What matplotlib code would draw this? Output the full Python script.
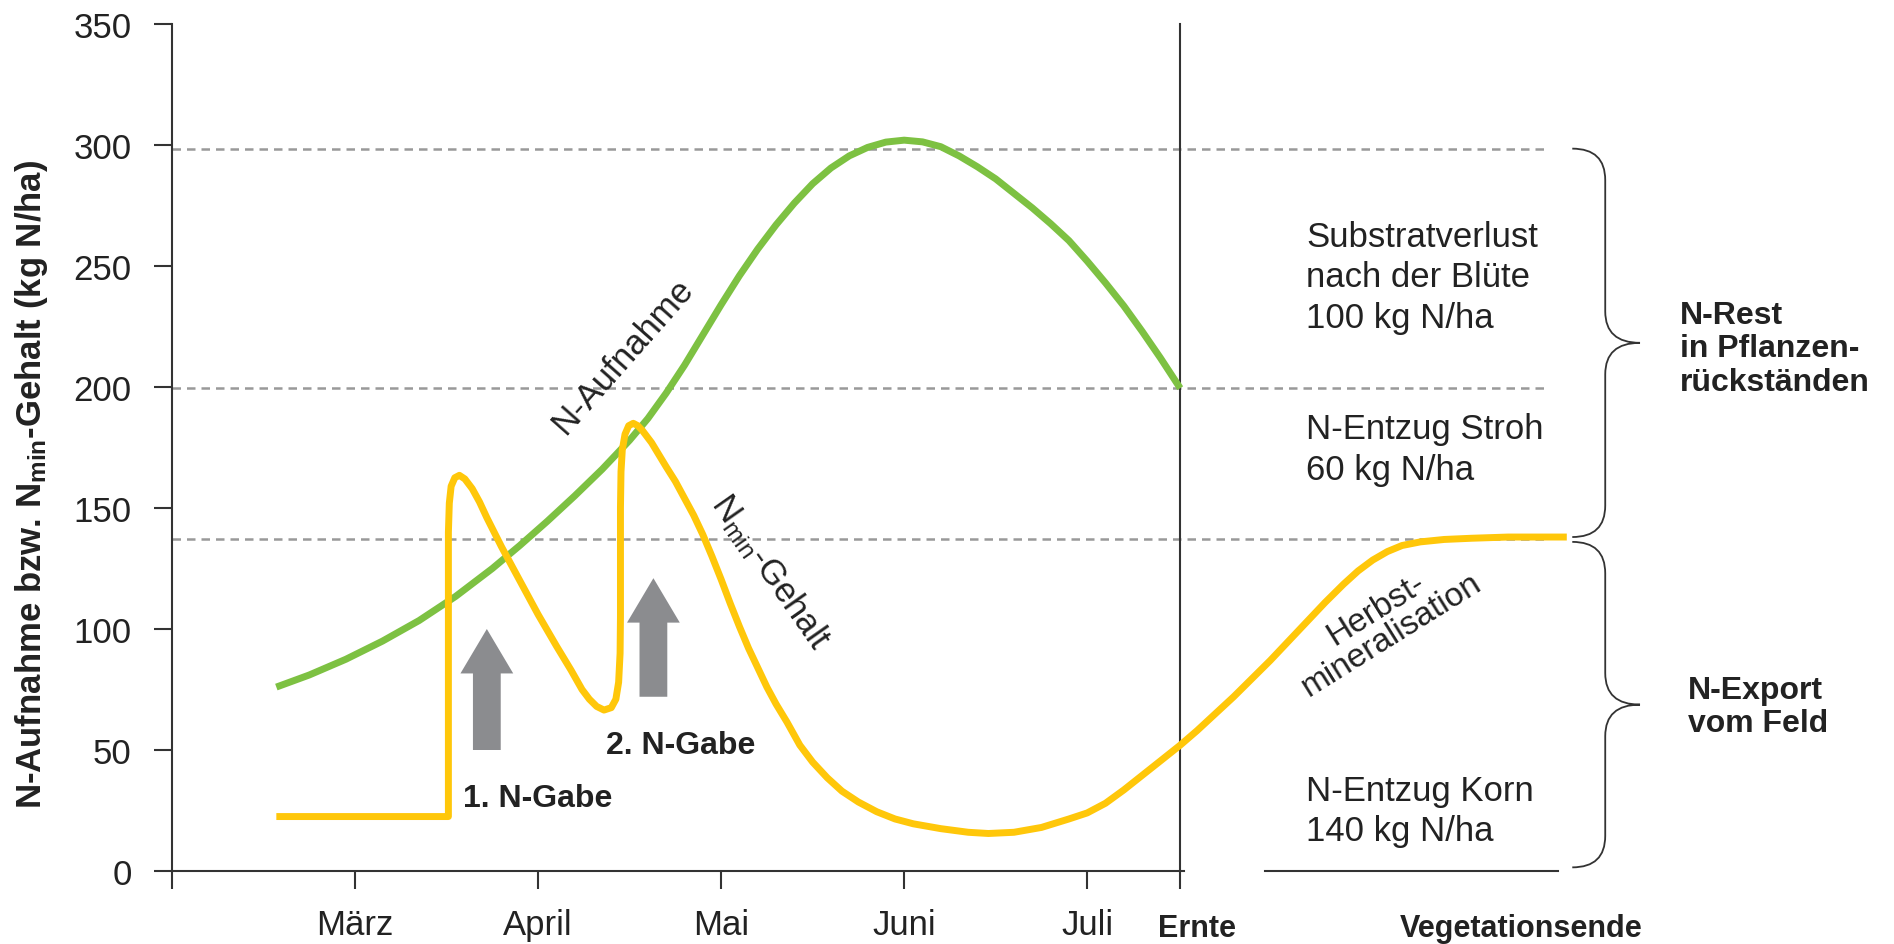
import matplotlib
matplotlib.use("Agg")
import matplotlib.pyplot as plt
from matplotlib.path import Path
from matplotlib.patches import PathPatch

plt.rcParams['font.family'] = ['Liberation Sans', 'DejaVu Sans']
plt.rcParams['mathtext.fontset'] = 'custom'
plt.rcParams['mathtext.rm'] = 'Liberation Sans'
plt.rcParams['mathtext.bf'] = 'Liberation Sans:bold'
plt.rcParams['mathtext.it'] = 'Liberation Sans:italic'
plt.rcParams['mathtext.default'] = 'regular'

# x axis: months since start, März = 1 ... Juli = 5, Ernte ~ 5.5
month_pos = [1, 2, 3, 4, 5]
month_labels = ['März', 'April', 'Mai', 'Juni', 'Juli']
ernte_x = 5.508
vegende_x = 7.37

# N-Aufnahme (green)
aufnahme_x = [0.57, 0.75, 0.95, 1.15, 1.35, 1.55, 1.75, 1.9, 2.05, 2.2, 2.35, 2.5, 2.6,
              2.7, 2.8, 2.9, 3.0, 3.1, 3.2, 3.3, 3.4, 3.5, 3.6, 3.7, 3.8, 3.9, 4.0,
              4.1, 4.2, 4.3, 4.4, 4.5, 4.6, 4.7, 4.8, 4.9, 5.0, 5.1, 5.2, 5.3, 5.4, 5.508]
aufnahme_y = [76, 81, 87.5, 95, 103.5, 113.5, 125, 134.5, 144.5, 155, 166, 178, 187,
              197.5, 209, 221.5, 234, 246, 257, 267, 276, 284, 290.5, 295.5, 299, 301.2, 302,
              301.3, 299.3, 295.5, 291, 286, 280, 274, 267.5, 260.5, 252, 243, 233.5, 223, 212, 199.5]

# Nmin-Gehalt (yellow)
nmin_x = [0.57, 1.51, 1.51, 1.515, 1.525, 1.545, 1.57, 1.60, 1.64, 1.68, 1.72, 1.76,
          1.80, 1.90, 2.00, 2.10, 2.18, 2.24, 2.28, 2.32, 2.36, 2.40, 2.425, 2.44,
          2.448, 2.45, 2.45, 2.453, 2.46, 2.475, 2.495, 2.52, 2.545, 2.57, 2.62, 2.66,
          2.70, 2.75, 2.80, 2.85, 2.90, 2.95, 3.00, 3.05, 3.10, 3.15, 3.20, 3.25, 3.30,
          3.36, 3.43, 3.50, 3.58, 3.66, 3.75, 3.85, 3.95, 4.05, 4.2, 4.35, 4.46, 4.6,
          4.75, 4.9, 5.0, 5.1, 5.2, 5.3, 5.4, 5.508, 5.6, 5.7, 5.8, 5.9, 6.0, 6.1, 6.2,
          6.3, 6.4, 6.48, 6.56, 6.64, 6.72, 6.82, 6.95, 7.1, 7.3, 7.62]
nmin_y = [22.5, 22.5, 140, 152, 159, 162.5, 163.5, 162, 158, 152.5, 146, 140,
          134, 120, 106, 93, 83, 75, 71, 68, 66.5, 67.5, 71, 78,
          90, 105, 150, 165, 174, 180.5, 184, 185, 184, 182, 177, 172,
          167, 161, 154, 147, 139, 130, 120.5, 110.5, 101, 92, 84, 76, 69,
          61.5, 52, 45, 38.5, 33, 28.5, 24.5, 21.5, 19.5, 17.5, 16, 15.5, 16,
          18, 21.5, 24, 28, 33.5, 39.5, 45.5, 52, 58, 65, 72, 79.5, 87, 95, 103,
          111, 118.5, 124, 128.5, 132, 134.5, 136, 137, 137.5, 138, 138]

ref_levels = [298.5, 199.5, 137]
ref_end = 7.50

# fertiliser arrows: x, base, tip
gabe_x = [1.72, 2.63]
gabe_base = [50, 72]
gabe_tip = [100, 121]
gabe_labels = ['1. N-Gabe', '2. N-Gabe']

GREEN = '#7dc142'
YELLOW = '#ffc70a'
GREY = '#8b8c8f'
DARK = '#333333'
TXT = '#222222'

fig = plt.figure(figsize=(18.94, 9.45), dpi=100)
ax = fig.add_axes([172 / 1894, 73 / 945, 1684 / 1894, 847 / 945])
xmax = 9.2
ax.set_xlim(0, xmax)
ax.set_ylim(0, 350)

for s in ['top', 'right']:
    ax.spines[s].set_visible(False)
for s in ['left', 'bottom']:
    ax.spines[s].set_color(DARK)
    ax.spines[s].set_linewidth(1.5)
ax.spines['bottom'].set_bounds(0, ernte_x + 0.02)

ax.set_yticks(range(0, 351, 50))
ax.set_xticks([0] + month_pos + [ernte_x])
ax.set_xticklabels([''] + month_labels + [''])
ax.tick_params(axis='both', direction='out', length=13, width=1.5, color=DARK,
               labelsize=25, labelcolor=TXT)
ax.tick_params(axis='y', pad=16)
ax.tick_params(axis='x', pad=14)

# second x-axis segment after harvest
ax.plot([5.97, 7.57], [0, 0], color=DARK, lw=1.5, clip_on=False)

# harvest line
ax.plot([ernte_x, ernte_x], [0, 350], color=DARK, lw=1.5, clip_on=False)

# dashed reference levels
for lv in ref_levels:
    ax.plot([0, ref_end], [lv, lv], color='#999999', lw=1.8,
            linestyle=(0, (3.4, 2.4)), zorder=1)

ax.plot(aufnahme_x, aufnahme_y, color=GREEN, lw=5, solid_capstyle='butt',
        solid_joinstyle='round', zorder=3)
ax.plot(nmin_x, nmin_y, color=YELLOW, lw=5, solid_capstyle='butt',
        solid_joinstyle='round', zorder=3)

# arrows
for gx, gb, gt in zip(gabe_x, gabe_base, gabe_tip):
    ax.annotate('', xy=(gx, gt), xytext=(gx, gb),
                arrowprops=dict(arrowstyle='simple,head_width=1.9,head_length=1.6,tail_width=1.0',
                                color=GREY, lw=0, shrinkA=0, shrinkB=0,
                                mutation_scale=20))

ax.text(1.59, 30, gabe_labels[0], fontsize=23, fontweight='bold', color=TXT,
        ha='left', va='center')
ax.text(2.37, 52, gabe_labels[1], fontsize=23, fontweight='bold', color=TXT,
        ha='left', va='center')

# curve labels
ax.text(2.46, 213, 'N-Aufnahme', fontsize=25, color=TXT, rotation=48.5,
        rotation_mode='anchor', ha='center', va='center')
ax.text(3.27, 124, r'N$_{min}$-Gehalt', fontsize=25, color=TXT, rotation=-55,
        rotation_mode='anchor', ha='center', va='center')
ax.text(6.62, 103, 'Herbst-\nmineralisation', fontsize=24, color=TXT, rotation=32,
        rotation_mode='anchor', ha='center', va='center', linespacing=0.95)

# right-hand texts
right_x = 6.195
ax.text(right_x, 245.5, 'Substratverlust\nnach der Blüte\n100 kg N/ha', fontsize=25,
        color=TXT, ha='left', va='center', linespacing=1.3)
ax.text(right_x, 174.5, 'N-Entzug Stroh\n60 kg N/ha', fontsize=25,
        color=TXT, ha='left', va='center', linespacing=1.3)
ax.text(right_x, 25, 'N-Entzug Korn\n140 kg N/ha', fontsize=25,
        color=TXT, ha='left', va='center', linespacing=1.3)


def brace(x_left, x_mid, x_tip, top, bot, ry):
    mid = (top + bot) / 2
    verts = [(x_left, top), (x_mid, top), (x_mid, top - ry),
             (x_mid, mid + ry),
             (x_mid, mid), (x_tip, mid),
             (x_mid, mid), (x_mid, mid - ry),
             (x_mid, bot + ry),
             (x_mid, bot), (x_left, bot)]
    codes = [Path.MOVETO, Path.CURVE3, Path.CURVE3, Path.LINETO,
             Path.CURVE3, Path.CURVE3, Path.CURVE3, Path.CURVE3,
             Path.LINETO, Path.CURVE3, Path.CURVE3]
    ax.add_patch(PathPatch(Path(verts, codes), fill=False, edgecolor=DARK,
                           lw=1.3, clip_on=False))


brace(7.65, 7.83, 8.02, 298.5, 138, 13)
brace(7.65, 7.83, 8.02, 136, 1.5, 13)

ax.text(8.24, 216, 'N-Rest\nin Pflanzen-\nrückständen', fontsize=23, fontweight='bold',
        color=TXT, ha='left', va='center', linespacing=1.15)
ax.text(8.28, 68, 'N-Export\nvom Feld', fontsize=23, fontweight='bold',
        color=TXT, ha='left', va='center', linespacing=1.15)

xt = ax.get_xaxis_transform()
ax.text(ernte_x + 0.09, -0.077, 'Ernte', transform=xt, fontsize=22, fontweight='bold',
        color=TXT, ha='center', va='baseline')
ax.text(vegende_x, -0.077, 'Vegetationsende', transform=xt, fontsize=22,
        fontweight='bold', color=TXT, ha='center', va='baseline')

fig.text(32 / 1894, 1 - 484 / 945, r'N-Aufnahme bzw. N$_{\mathbf{min}}$-Gehalt (kg N/ha)',
         rotation=90, fontsize=25, fontweight='bold', color=TXT, ha='center', va='center')

fig.savefig('out.png', dpi=100)
